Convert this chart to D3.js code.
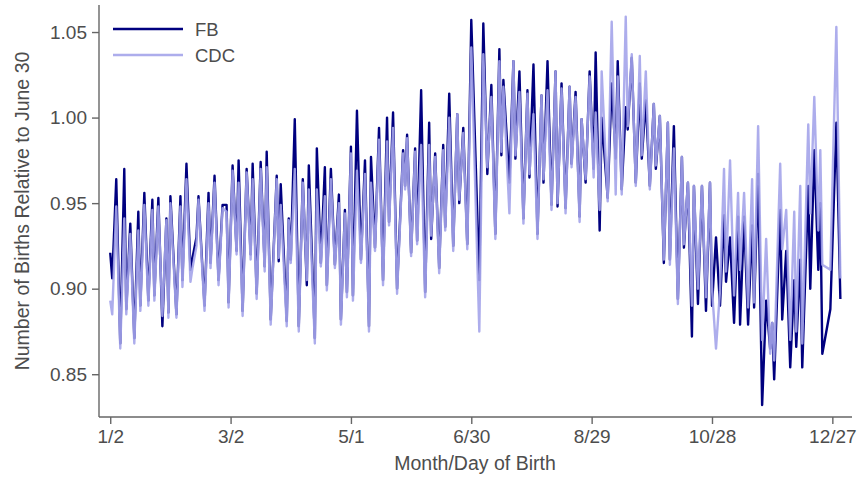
<!DOCTYPE html>
<html>
<head>
<meta charset="utf-8">
<script src="https://cdn.jsdelivr.net/npm/d3@7"></script>
<style>
body { margin: 0; background: #fff; }
text { font-family: "Liberation Sans", Arial, Helvetica, sans-serif; fill: #4d4d4d; }
</style>
</head>
<body>
<div id="container"></div>
<script>
// day of year (leap year) of each turning point
var days = [2,3,5,7,9,10,12,14,16,17,19,21,23,24,26,28,30,31,32,35,37,38,40,42,43,45,46,49,51,52,54,56,58,60,
	61,63,65,66,68,70,72,73,75,77,79,80,82,85,86,87,90,91,92,94,96,98,100,101,104,105,107,109,110,112,114,116,117,119,120,
	122,123,125,127,129,131,132,134,136,138,140,141,143,145,148,149,150,152,154,155,157,159,161,162,164,166,168,169,171,173,175,176,178,180,182,
	186,188,190,192,194,196,197,198,201,203,204,206,208,210,211,213,215,217,218,220,222,224,225,227,229,231,232,234,236,237,239,241,243,244,
	246,247,250,252,254,255,257,259,260,262,264,266,267,269,271,273,274,276,278,280,281,283,285,287,288,290,292,293,295,297,299,301,302,304,
	306,308,309,311,313,315,316,318,320,322,323,325,327,329,331,332,333,336,337,339,341,343,344,346,347,350,351,353,355,356,357,361,364,366];

// FB births relative to June 30
var fbValues = [.921,.906,.964,.868,.970,.888,.938,.871,.945,.890,.956,.893,.952,.896,.953,.878,.941,.886,.954,.885,.954,.905,.973,.911,.918,.930,.954,.890,.956,.915,.966,.905,.949,.949,
	.892,.972,.922,.975,.887,.970,.920,.973,.897,.974,.913,.980,.882,.966,.916,.961,.881,.941,.917,.999,.878,.964,.902,.972,.871,.982,.915,.971,.902,.970,.914,.955,.882,.946,.898,
	.983,.896,1.004,.917,.975,.878,.977,.924,.994,.905,1.000,.939,1.003,.900,.981,.960,.990,.921,.982,.928,1.016,.898,.997,.929,.979,.912,.984,.936,1.014,.925,1.002,.950,.994,.926,1.057,
	.905,1.055,.967,1.019,.932,1.040,.978,1.022,.962,1.033,.976,1.027,.941,1.016,.965,1.031,.932,1.013,.962,1.033,.949,1.027,.948,1.020,.947,1.018,.973,1.015,.942,.999,.962,1.027,.970,1.038,
	.934,1.000,.953,1.020,.976,1.033,.958,1.006,.993,1.035,.962,1.020,.976,1.010,.960,1.008,.970,1.001,.915,.997,.917,.995,.894,.977,.924,.962,.872,.960,.891,.960,.887,.962,.890,.930,
	.890,.943,.904,.930,.880,.942,.879,.942,.879,.937,.889,.967,.832,.893,.865,.880,.847,.946,.882,.922,.854,.905,.866,.917,.854,.960,.900,.981,.911,.950,.862,.888,.997,.894];

// CDC births relative to June 30
var cdcValues = [.893,.885,.948,.865,.941,.885,.932,.868,.934,.887,.949,.890,.946,.893,.948,.884,.940,.883,.950,.883,.948,.901,.964,.904,.912,.925,.952,.887,.950,.912,.962,.902,.947,.945,
	.889,.969,.920,.962,.884,.968,.917,.964,.894,.970,.910,.971,.879,.964,.918,.949,.878,.940,.915,.970,.875,.962,.905,.958,.868,.958,.913,.954,.899,.964,.912,.950,.879,.944,.895,
	.979,.893,.969,.915,.967,.875,.962,.922,.987,.902,.986,.937,.994,.897,.979,.958,.988,.919,.980,.926,.984,.895,.984,.931,.977,.909,.981,.934,1.000,.922,1.002,.952,.991,.923,1.041,
	.875,1.037,.971,1.012,.929,1.033,.980,1.018,.944,1.033,.978,1.015,.938,1.014,.967,1.002,.929,1.013,.964,1.016,.946,1.027,.950,1.017,.944,1.018,.971,1.012,.939,.999,.964,1.024,.965,1.003,
	.946,1.027,.951,1.056,.955,1.024,.955,1.059,.995,1.037,.960,1.036,.978,1.027,.958,1.008,.972,1.001,.917,.997,.914,.982,.891,.977,.926,.962,.890,.960,.900,.960,.895,.962,.900,.865,
	.899,.970,.910,.975,.896,.956,.911,.956,.889,.964,.892,.995,.870,.929,.862,.880,.858,.973,.923,.946,.870,.945,.875,.960,.868,.996,.944,1.012,.934,.981,.914,.911,1.053,.906];

var xTickDays = [2, 62, 122, 182, 242, 302, 362];
var xTickLabels = ["1/2", "3/2", "5/1", "6/30", "8/29", "10/28", "12/27"];
var yTicks = [0.85, 0.90, 0.95, 1.00, 1.05];
var seriesNames = ["FB", "CDC"];
var seriesColors = ["#00007f", "#a4a4ea"];
var seriesOpacity = [1, 0.9];

function draw()
{// build the chart
	var svg = d3.select("#container").append("svg")
		.attr("width", 859)
		.attr("height", 479);

	var x = d3.scaleLinear().domain([-3.6, 371.8]).range([99, 852]);
	var y = d3.scaleLinear().domain([0.825, 1.0658]).range([417, 5]);

	// axes
	var xAxis = svg.append("g")
		.attr("transform", "translate(0,417)")
		.call(d3.axisBottom(x).tickValues(xTickDays).tickFormat((d, i) => xTickLabels[i]).tickSizeOuter(0).tickSize(7).tickPadding(6));
	var yAxis = svg.append("g")
		.attr("transform", "translate(99,0)")
		.call(d3.axisLeft(y).tickValues(yTicks).tickFormat(d3.format(".2f")).tickSizeOuter(0).tickSize(7).tickPadding(5));

	[xAxis, yAxis].forEach(function(a) {
		a.select(".domain").attr("stroke", "#666").attr("stroke-width", 1.4);
		a.selectAll(".tick line").attr("stroke", "#666").attr("stroke-width", 1.4);
		a.selectAll(".tick text").style("font-size", "19px").attr("fill", "#4d4d4d");
	});
	xAxis.select(".domain").attr("d", "M99,0H852");
	yAxis.select(".domain").attr("d", "M0,5V417");

	// axis titles
	svg.append("text")
		.attr("x", 475).attr("y", 470)
		.attr("text-anchor", "middle")
		.style("font-size", "19.5px")
		.text("Month/Day of Birth");
	svg.append("text")
		.attr("transform", "translate(29,211) rotate(-90)")
		.attr("text-anchor", "middle")
		.style("font-size", "19.5px")
		.text("Number of Births Relative to June 30");

	// lines, CDC drawn over FB
	var line = d3.line()
		.x((d) => x(d[0]))
		.y((d) => y(d[1]));

	var seriesData = [
		days.map((d, i) => [d, fbValues[i]]),
		days.map((d, i) => [d, cdcValues[i]])
	];

	svg.selectAll(".series")
		.data(seriesData)
		.enter()
		.append("path")
			.attr("d", line)
			.attr("fill", "none")
			.attr("stroke", (d, i) => seriesColors[i])
			.attr("stroke-opacity", (d, i) => seriesOpacity[i])
			.attr("stroke-width", 2.4)
			.attr("stroke-linejoin", "round");

	// legend
	var legend = svg.selectAll(".legend")
		.data(seriesNames)
		.enter()
		.append("g")
			.attr("transform", (d, i) => "translate(113," + (29 + i * 26) + ")");
	legend.append("line")
		.attr("x1", 0).attr("x2", 70)
		.attr("stroke", (d, i) => seriesColors[i])
		.attr("stroke-opacity", (d, i) => seriesOpacity[i])
		.attr("stroke-width", 2.4);
	legend.append("text")
		.attr("x", 82).attr("y", 6.5)
		.style("font-size", "18.5px")
		.text((d) => d);
}// End draw

draw();
</script>
</body>
</html>
